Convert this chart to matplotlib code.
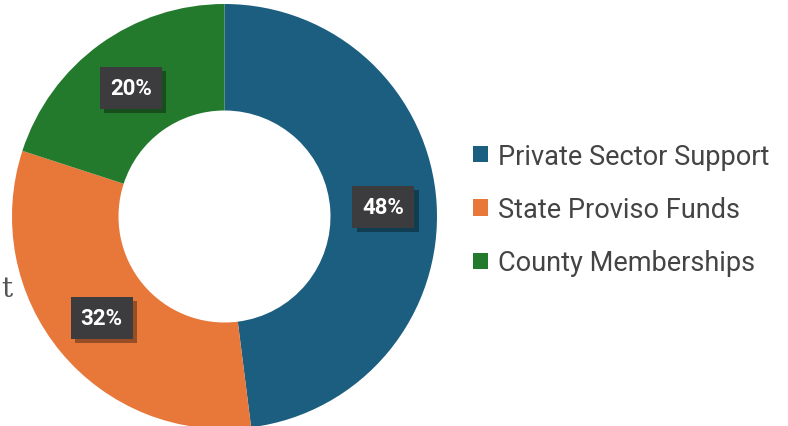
import numpy as np
import matplotlib.pyplot as plt
import matplotlib.patheffects as pe

# data
labels = ['Private Sector Support', 'State Proviso Funds', 'County Memberships']
shares = [48, 32, 20]
colors = ['#1b5e80', '#e8773a', '#247a2c']

W, H = 788, 427
fig = plt.figure(figsize=(W / 100, H / 100), dpi=100)
ax = fig.add_axes([0, 0, 1, 1])

cx, cy = 224.5, 209.5
r_out, r_in = 212.5, 106
wedges, _ = ax.pie(shares, colors=colors, startangle=90, counterclock=False,
                   center=(cx, cy), radius=r_out, frame=True,
                   wedgeprops=dict(width=r_out - r_in, linewidth=0))
ax.set_xlim(0, W)
ax.set_ylim(0, H)
ax.set_aspect('equal')
ax.axis('off')

# percentage boxes
r_mid = (r_out + r_in) / 2
for w, s in zip(wedges, shares):
    ang = np.deg2rad((w.theta1 + w.theta2) / 2)
    x = cx + r_mid * np.cos(ang)
    y = cy + r_mid * np.sin(ang)
    t = ax.text(x, y, f'{s}%', ha='center', va='center', color='white',
                fontsize=16, fontweight='bold', family='Roboto',
                bbox=dict(boxstyle='square,pad=0.45', fc='#3c3b3e', ec='none'))
    t.get_bbox_patch().set_path_effects([
        pe.SimplePatchShadow(offset=(3, -3), shadow_rgbFace='black', alpha=0.35),
        pe.Normal()])

# legend
handles = [plt.Rectangle((0, 0), 1, 1, fc=c, ec='none') for c in colors]
leg = ax.legend(handles, labels, loc='center left',
                bbox_to_anchor=(473 / W, (H - 210.5) / H), frameon=False,
                prop=dict(family='Roboto', size=19.5), labelcolor='#444444',
                borderpad=0, borderaxespad=0,
                handlelength=0.55, handleheight=0.55, handletextpad=0.37,
                labelspacing=0.97)

# small text at the left edge
fig.text(0.002, (H - 290) / H, 't', family='DejaVu Serif', fontsize=20,
         color='#555555', va='center', ha='left')

fig.savefig('out.png', dpi=100)
